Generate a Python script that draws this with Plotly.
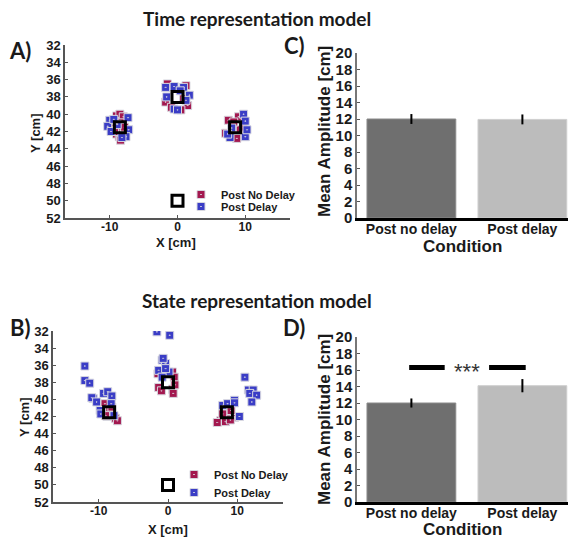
import plotly.graph_objects as go

# ---------------- DATA ----------------
# Panel A (Time representation model) endpoints [cm]
a_nodelay_x = [-9.0, -8.5, -8.0, -9.3, -8.2, -9.6, -8.8, -7.8, -9.0, -8.6, -8.4, -9.3,
               -1.5, 1.25, 1.5, 0.5, -1.75, 0.9, -0.9,
               9.0, 7.5, 9.25, 7.1, 8.75, 9.75, 8.3]
a_nodelay_y = [40.2, 40.0, 40.3, 40.8, 41.0, 41.4, 41.8, 41.5, 42.3, 42.6, 43.0, 42.0,
               36.5, 36.7, 39.0, 39.5, 38.6, 38.2, 39.2,
               40.3, 40.7, 41.8, 42.2, 42.8, 41.5, 40.9]
a_delay_x = [-10.0, -10.3, -7.3, -7.2, -7.6, -8.2, -9.8, -8.9, -9.4,
             -1.75, -0.5, 0.9, 1.75, -1.6, -0.5, 0.0, 1.25, 0.4,
             9.75, 10.0, 10.0, 7.75, 8.0, 10.25, 7.4]
a_delay_y = [40.7, 41.4, 40.4, 41.8, 42.6, 42.7, 42.0, 41.2, 40.6,
             36.9, 36.8, 36.9, 37.8, 38.0, 39.4, 39.5, 38.4, 37.3,
             40.0, 40.8, 42.6, 42.7, 41.6, 41.8, 42.3]

# Panel B (State representation model) endpoints [cm]
b_nodelay_x = [-9.1, -8.4, -7.6, -7.3, -8.8, -8.1, -9.0,
               0.65, 0.9, -1.35, -0.95, 0.65, 0.75, -1.45, 1.0,
               8.6, 7.6, 9.6, 7.1, 9.1, 7.9, 8.3, 9.0]
b_nodelay_y = [40.5, 41.2, 42.2, 42.5, 42.0, 40.9, 41.9,
               36.8, 37.4, 38.6, 39.0, 38.8, 39.3, 37.0, 38.3,
               42.2, 42.5, 42.1, 42.7, 41.3, 41.7, 42.6, 42.4]
b_delay_x = [-12.0, -12.0, -11.3, -10.8, -11.0, -9.3, -8.7, -8.1, -8.2, -10.3, -9.8, -9.7, -7.8,
             -1.6, 0.25, -0.85, -0.35, -1.35, 0.15, -0.85, -0.35, -0.7,
             7.9, 8.6, 9.6, 10.3, 11.1, 11.6, 12.3, 11.8, 12.8, 12.1, 9.6]
b_delay_y = [36.1, 37.8, 38.1, 39.9, 39.8, 39.3, 39.1, 39.6, 40.5, 40.3, 41.3, 41.7, 41.9,
             32.1, 32.5, 35.4, 35.8, 36.6, 36.8, 37.4, 36.4, 35.2,
             40.7, 40.5, 40.1, 42.0, 37.4, 38.9, 38.9, 39.3, 39.5, 40.3, 40.4]

# Targets and start position
target_x = [-8.5, 0.0, 8.5, 0.0]
target_y = [41.5, 38.0, 41.5, 50.0]

# Bar panels
conditions = ["Post no delay", "Post delay"]
c_means = [12.0, 11.95]
c_err = [0.6, 0.6]
d_means = [12.0, 14.1]
d_err = [0.55, 0.8]
sig_y = 16.3
sig_left = [0.98, 1.3]
sig_right = [1.7, 2.03]
sig_text_x = 1.5
sig_text_y = 15.6

y_ticks = list(range(32, 53, 2))
x_ticks = [-10, 0, 10]
bar_ticks = list(range(0, 21, 2))

# ---------------- STYLE ----------------
RED = "#A3184F"
BLUE = "#3A3DC6"
TXT = "#1a1a1a"
FONT = "Arial, Liberation Sans, sans-serif"
TITLEFONT = "Lato"

# page body has an 8px margin: lay the figure out in screen pixels
OFF = 8
W, H = 576 - OFF, 539 - OFF

def px(x):
    return (x - OFF) / W

def py(y):
    return 1 - (y - OFF) / H

fig = go.Figure()

def add_scatter(xa, ya, nx, ny, dx, dy, leg1, leg2):
    fig.add_trace(go.Scatter(x=nx, y=ny, mode="markers", name="<b>Post No Delay</b>",
                             xaxis=xa, yaxis=ya, legend=leg1,
                             marker=dict(symbol="square-dot", size=8, color=RED,
                                         line=dict(color="#d8d8e0", width=1))))
    fig.add_trace(go.Scatter(x=dx, y=dy, mode="markers", name="<b>Post Delay</b>",
                             xaxis=xa, yaxis=ya, legend=leg2,
                             marker=dict(symbol="square-dot", size=8, color=BLUE,
                                         line=dict(color="#d8d8e0", width=1))))
    fig.add_trace(go.Scatter(x=target_x, y=target_y, mode="markers", showlegend=False,
                             xaxis=xa, yaxis=ya,
                             marker=dict(symbol="square-open", size=11, color="black",
                                         line=dict(color="black", width=3))))

add_scatter("x", "y", a_nodelay_x, a_nodelay_y, a_delay_x, a_delay_y, "legend", "legend2")
add_scatter("x3", "y3", b_nodelay_x, b_nodelay_y, b_delay_x, b_delay_y, "legend3", "legend4")

def add_bars(xa, ya, means, errs):
    fig.add_trace(go.Bar(x=[1, 2], y=means, xaxis=xa, yaxis=ya, width=0.8, showlegend=False,
                         marker=dict(color=["#6f6f6f", "#bcbcbc"],
                                     line=dict(color=["#8a8a8a", "#cfcfcf"], width=1)),
                         error_y=dict(type="data", array=errs, color="black",
                                      thickness=2, width=0)))

add_bars("x2", "y2", c_means, c_err)
add_bars("x4", "y4", d_means, d_err)

# significance bars
for seg in (sig_left, sig_right):
    fig.add_trace(go.Scatter(x=seg, y=[sig_y, sig_y], mode="lines", xaxis="x4", yaxis="y4",
                             showlegend=False, line=dict(color="black", width=5)))
fig.add_trace(go.Scatter(x=[sig_text_x], y=[sig_text_y], mode="text", text=["***"],
                         textposition="middle center",
                         xaxis="x4", yaxis="y4", showlegend=False,
                         textfont=dict(family=FONT, size=22, color="#333")))

def scatter_axes(xd, yd):
    xa = dict(domain=xd, range=[-16.6, 16.6], tickvals=x_ticks,
              ticktext=[f"<b>{v}</b>" for v in x_ticks],
              showgrid=False, zeroline=False, showline=True, linecolor="#555",
              linewidth=1.5, ticks="inside", ticklen=3, tickcolor="#555",
              ticklabelstandoff=-3,
              tickfont=dict(family=FONT, size=12, color=TXT))
    ya = dict(domain=yd, range=[52, 32], tickvals=y_ticks,
              ticktext=[f"<b>{v}</b>" for v in y_ticks],
              showgrid=False, zeroline=False, showline=True, linecolor="#555",
              linewidth=1.5, ticks="inside", ticklen=3, tickcolor="#555",
              tickfont=dict(family=FONT, size=13, color=TXT))
    return xa, ya

def bar_axes(xd, yd):
    xa = dict(domain=xd, range=[0.51, 2.483], tickvals=[1, 2],
              ticktext=[f"<b>{c}</b>" for c in conditions],
              showgrid=False, zeroline=False, showline=True, linecolor="black",
              linewidth=2.5, ticks="", ticklabelstandoff=-4,
              tickfont=dict(family=FONT, size=14, color=TXT))
    ya = dict(domain=yd, range=[0, 20], tickvals=bar_ticks,
              ticktext=[f"<b>{v}</b>" for v in bar_ticks],
              showgrid=False, zeroline=False, showline=True, linecolor="#777",
              linewidth=1.5, ticks="inside", ticklen=3, tickcolor="#555",
              tickfont=dict(family=FONT, size=15, color=TXT))
    return xa, ya

xa1, ya1 = scatter_axes([px(65), px(290)], [py(218), py(45)])
xa3, ya3 = scatter_axes([px(53), px(283)], [py(502), py(331)])
xa2, ya2 = bar_axes([px(357), 1.0], [py(218), py(53)])
xa4, ya4 = bar_axes([px(357), 1.0], [py(502), py(337)])
xa1.update(anchor="y"); ya1.update(anchor="x")
xa2.update(anchor="y2"); ya2.update(anchor="x2")
xa3.update(anchor="y3"); ya3.update(anchor="x3")
xa4.update(anchor="y4"); ya4.update(anchor="x4")

def ann(x, y, text, size, family=FONT, angle=0):
    return dict(x=px(x), y=py(y), xref="paper", yref="paper", text=text,
                showarrow=False, textangle=angle, xanchor="center", yanchor="middle",
                font=dict(family=family, size=size, color=TXT))

annotations = [
    ann(257, 19, "<b>Time representation model</b>", 19, TITLEFONT),
    ann(257, 300, "<b>State representation model</b>", 19, TITLEFONT),
    ann(20, 50, "<b>A)</b>", 22, TITLEFONT),
    ann(20, 327, "<b>B)</b>", 22, TITLEFONT),
    ann(294, 46, "<b>C)</b>", 22, TITLEFONT),
    ann(294, 327, "<b>D)</b>", 22, TITLEFONT),
    ann(35, 133, "<b>Y [cm]</b>", 13, angle=-90),
    ann(24, 417, "<b>Y [cm]</b>", 13, angle=-90),
    ann(176, 243, "<b>X [cm]</b>", 13),
    ann(168, 529, "<b>X [cm]</b>", 13),
    ann(324, 132, "<b>Mean Amplitude [cm]</b>", 17, angle=-90),
    ann(324, 420, "<b>Mean Amplitude [cm]</b>", 17, angle=-90),
    ann(462, 246, "<b>Condition</b>", 17),
    ann(462, 529, "<b>Condition</b>", 17),
]

legfont = dict(family=FONT, size=11, color=TXT)

def leg(x, y):
    return dict(x=px(x), y=py(y), xanchor="left", yanchor="top", font=legfont,
                bgcolor="rgba(0,0,0,0)", itemwidth=30)

fig.update_layout(
    width=W, height=H, margin=dict(l=0, r=0, t=0, b=0, autoexpand=False),
    paper_bgcolor="white", plot_bgcolor="white",
    xaxis=xa1, yaxis=ya1, xaxis2=xa2, yaxis2=ya2,
    xaxis3=xa3, yaxis3=ya3, xaxis4=xa4, yaxis4=ya4,
    annotations=annotations,
    legend=leg(181, 180), legend2=leg(181, 192),
    legend3=leg(174, 460), legend4=leg(174, 478),
)

fig.write_html("out.html")
